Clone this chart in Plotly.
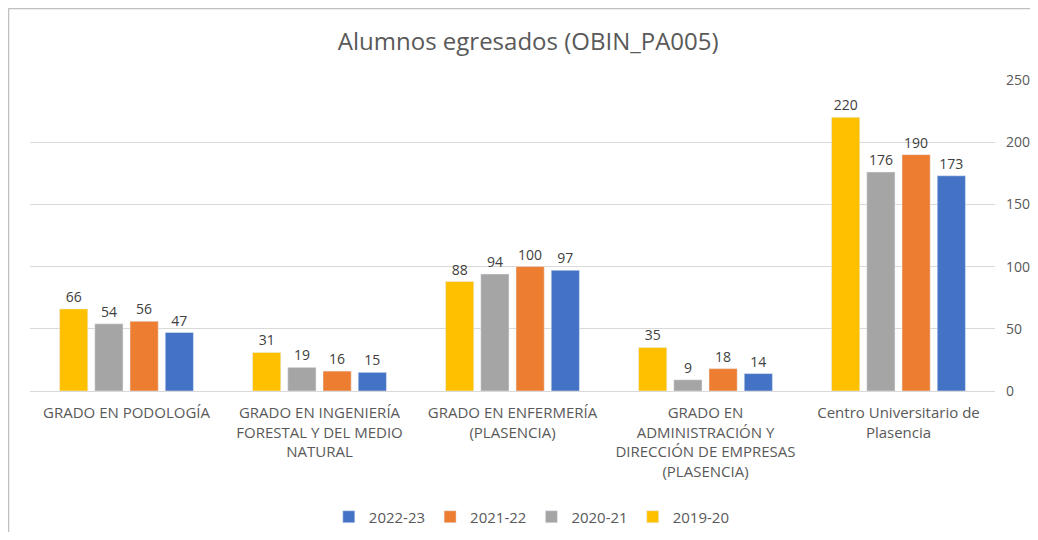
import plotly.graph_objects as go

categories = [
    "GRADO EN PODOLOGÍA",
    "GRADO EN INGENIERÍA<br>FORESTAL Y DEL MEDIO<br>NATURAL",
    "GRADO EN ENFERMERÍA<br>(PLASENCIA)",
    "GRADO EN<br>ADMINISTRACIÓN Y<br>DIRECCIÓN DE EMPRESAS<br>(PLASENCIA)",
    "Centro Universitario de<br>Plasencia",
]
v_2019_20 = [66, 31, 88, 35, 220]
v_2020_21 = [54, 19, 94, 9, 176]
v_2021_22 = [56, 16, 100, 18, 190]
v_2022_23 = [47, 15, 97, 14, 173]

series = [
    ("2019-20", v_2019_20, "#FFC000"),
    ("2020-21", v_2020_21, "#A5A5A5"),
    ("2021-22", v_2021_22, "#ED7D31"),
    ("2022-23", v_2022_23, "#4472C4"),
]

FONT = "Open Sans"
fig = go.Figure()
for name, vals, col in series:
    fig.add_trace(go.Bar(
        x=categories, y=vals, name=name, marker_color=col,
        text=vals, textposition="outside", cliponaxis=False,
        textfont=dict(color="#404040", size=14, family=FONT),
    ))

border = dict(color="#BFBFBF", width=1.5)
fig.update_layout(
    width=1022, height=524,
    paper_bgcolor="white", plot_bgcolor="white",
    margin=dict(l=22, r=35, t=72, b=141, autoexpand=False),
    barmode="group", bargap=0.27, bargroupgap=0.2,
    title=dict(text="Alumnos egresados (OBIN_PA005)", x=0.509, xanchor="center",
               y=0.935, yanchor="middle",
               font=dict(family=FONT, size=24, color="#595959")),
    font=dict(family=FONT, color="#595959", size=15),
    legend=dict(orientation="h", x=0.52, xanchor="center",
                yref="container", y=0.0286, yanchor="middle",
                traceorder="reversed", font=dict(size=15, color="#595959"),
                itemwidth=30),
    xaxis=dict(showline=True, linecolor="#D9D9D9", ticks="", automargin=False,
               tickfont=dict(size=15, color="#595959"), ticklabelstandoff=8),
    yaxis=dict(side="right", range=[0, 250], dtick=50, showgrid=True, automargin=False,
               gridcolor="#D9D9D9", zeroline=False, ticks="",
               tickfont=dict(size=14, color="#595959"), ticklabelstandoff=10),
    shapes=[
        dict(type="line", xref="paper", yref="paper",
             x0=-0.0223, x1=1.0363, y0=1.2299, y1=1.2299, line=border),
        dict(type="line", xref="paper", yref="paper",
             x0=-0.0223, x1=-0.0223, y0=-0.4534, y1=1.2299, line=border),
    ],
)

fig.write_html("out.html")
